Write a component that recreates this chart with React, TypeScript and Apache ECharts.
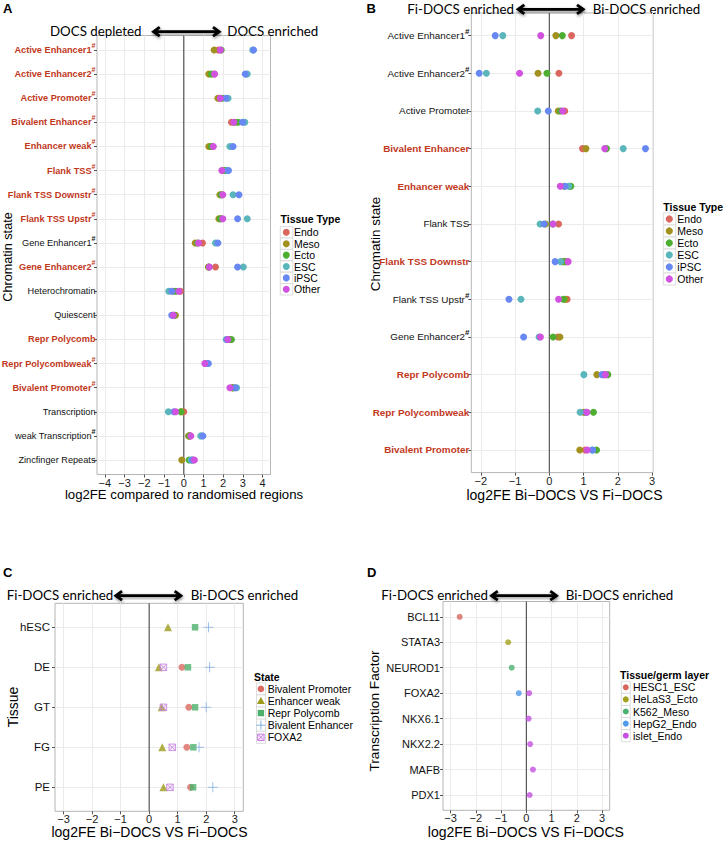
import React, { useEffect, useRef } from 'react';
import * as echarts from 'echarts';

const FONT = '"Liberation Sans", Arial, sans-serif';
const HEAD = 'Lato, "Open Sans", sans-serif';
const RED = '#C1391D';

// ---------- Panel A ----------
const statesA = ['Active Enhancer1#', 'Active Enhancer2#', 'Active Promoter#', 'Bivalent Enhancer#', 'Enhancer weak#', 'Flank TSS#', 'Flank TSS Downstr#', 'Flank TSS Upstr#', 'Gene Enhancer1#', 'Gene Enhancer2#', 'Heterochromatin', 'Quiescent', 'Repr Polycomb', 'Repr Polycombweak#', 'Bivalent Promoter#', 'Transcription', 'weak Transcription#', 'Zincfinger Repeats'];
const redA = [true, true, true, true, true, true, true, true, false, true, false, false, true, true, true, false, false, false];
const endoA = [1.75, 1.55, 1.8, 2.42, 1.45, 2.0, 1.95, 1.9, 0.95, 1.61, -0.17, -0.5, 2.3, 1.1, 2.45, 0.0, 0.3, 0.45];
const mesoA = [1.54, 1.27, 1.73, 2.6, 1.27, 2.03, 1.83, 1.78, 0.58, 1.25, -0.54, -0.42, 2.34, 1.15, 2.5, -0.12, 0.24, -0.1];
const ectoA = [1.9, 1.4, 1.95, 2.75, 1.4, 2.1, 1.9, 1.85, 0.7, 1.28, -0.4, -0.5, 2.42, 1.12, 2.52, -0.15, 0.3, 0.27];
const escA = [3.5, 3.22, 2.25, 3.1, 2.34, 2.2, 2.5, 3.22, 1.61, 3.02, -0.76, -0.55, 2.15, 1.2, 2.68, -0.78, 0.86, 0.37];
const ipscA = [3.54, 3.12, 2.14, 2.98, 2.5, 2.27, 2.8, 2.73, 1.73, 2.73, -0.6, -0.61, 2.2, 1.25, 2.62, -0.5, 0.97, 0.44];
const otherA = [1.86, 1.56, 1.85, 2.54, 1.5, 1.93, 1.98, 1.98, 0.75, 1.3, -0.25, -0.53, 2.24, 1.07, 2.34, -0.41, 0.36, 0.54];
const ticksA = [-4, -3, -2, -1, 0, 1, 2, 3, 4];

// ---------- Panel B ----------
const statesB = ['Active Enhancer1#', 'Active Enhancer2#', 'Active Promoter', 'Bivalent Enhancer', 'Enhancer weak', 'Flank TSS', 'Flank TSS Downstr', 'Flank TSS Upstr#', 'Gene Enhancer2#', 'Repr Polycomb', 'Repr Polycombweak', 'Bivalent Promoter'];
const redB = [false, false, false, true, true, false, true, false, false, true, true, true];
const endoB = [0.65, 0.28, 0.45, 0.97, 0.6, 0.27, 0.5, 0.52, 0.25, 1.6, 1.05, 1.05];
const mesoB = [0.19, -0.33, 0.26, 1.07, 0.43, -0.11, 0.39, 0.46, 0.31, 1.39, 1.0, 0.89];
const ectoB = [0.38, -0.07, 0.33, 1.67, 0.63, 0.1, 0.45, 0.41, 0.11, 1.71, 1.29, 1.38];
const escB = [-1.36, -1.84, -0.34, 2.16, 0.57, -0.27, 0.33, -0.83, -0.3, 1.01, 0.9, 1.25];
const ipscB = [-1.58, -2.05, -0.03, 2.81, 0.46, -0.15, 0.17, -1.18, -0.75, 1.54, 1.08, 1.27];
const otherB = [-0.25, -0.87, 0.39, 1.62, 0.32, 0.11, 0.55, 0.27, -0.26, 1.64, 1.1, 1.11];
const ticksB = [-2, -1, 0, 1, 2, 3];

const tissues = ['Endo', 'Meso', 'Ecto', 'ESC', 'iPSC', 'Other'];
const tissueColors = ['#D9675E', '#A3911F', '#4DAE32', '#5BB6BB', '#6787F2', '#D152DE'];

// ---------- Panel C ----------
const tissuesC = ['hESC', 'DE', 'GT', 'FG', 'PE'];
const statesC = ['Bivalent Promoter', 'Enhancer weak', 'Repr Polycomb', 'Bivalent Enhancer', 'FOXA2'];
const bivPromC = [null, 1.15, 1.39, 1.32, 1.45];
const enhWeakC = [0.66, 0.34, 0.44, 0.46, 0.5];
const reprPolyC = [1.61, 1.36, 1.61, 1.55, 1.54];
const bivEnhC = [2.08, 2.12, 2.0, 1.75, 2.23];
const foxa2C = [null, 0.5, 0.5, 0.81, 0.73];
const colorsC = ['#DA6A61', '#9E9B19', '#4CB16C', '#86B0E4', '#C77EE0'];
const ticksC = [-3, -2, -1, 0, 1, 2, 3];

// ---------- Panel D ----------
const tfD = ['BCL11', 'STATA3', 'NEUROD1', 'FOXA2', 'NKX6.1', 'NKX2.2', 'MAFB', 'PDX1'];
const linesD = ['HESC1_ESC', 'HeLaS3_Ecto', 'K562_Meso', 'HepG2_Endo', 'islet_Endo'];
const hesc1D = [-2.64, null, null, null, null, null, null, null];
const helaD = [null, -0.72, null, null, null, null, null, null];
const k562D = [null, null, -0.58, null, null, null, null, null];
const hepg2D = [null, null, null, -0.3, null, null, null, null];
const isletD = [null, null, null, 0.11, 0.09, 0.15, 0.26, 0.13];
const colorsD = ['#D8675E', '#A2A01E', '#4DB270', '#4F9AE9', '#C551E1'];
const ticksD = [-3, -2, -1, 0, 1, 2, 3];

const PLUS = 'path://M5,0L5,10M0,5L10,5';
const BOXX = 'path://M0,0L10,0L10,10L0,10Z M0,0L10,10 M10,0L0,10';

const fmtNum = (v: number) => (v < 0 ? '\u2212' + Math.abs(v) : String(v));
const pts = (vals: (number | null)[]) =>
  vals.map((v, i) => (v == null ? null : [v, i])).filter((d) => d != null);

function richFor(fs: number) {
  return {
    r: { color: RED, fontWeight: 'bold', fontSize: fs, fontFamily: FONT, lineHeight: 16 },
    rs: { color: RED, fontWeight: 'bold', fontSize: fs - 2, fontFamily: FONT, lineHeight: 9, verticalAlign: 'top' },
    k: { color: '#111', fontSize: fs, fontFamily: FONT, lineHeight: 16 },
    ks: { color: '#111', fontWeight: 'bold', fontSize: fs - 2, fontFamily: FONT, lineHeight: 9, verticalAlign: 'top' },
  };
}

function catLabel(labels: string[], reds: boolean[] | null) {
  return (v: number) => {
    const s = labels[v];
    if (s == null) return '';
    const hash = s.endsWith('#');
    const base = hash ? s.slice(0, -1) : s;
    const k = reds && reds[v] ? 'r' : 'k';
    return `{${k}|${base}}` + (hash ? `{${k}s|#}` : '');
  };
}

function xAxisFor(gridIndex: number, min: number, max: number, ticks: number[]) {
  return {
    type: 'value', gridIndex, min, max, position: 'bottom',
    axisLine: { show: false, onZero: false },
    axisTick: { show: true, length: 3, lineStyle: { color: '#555' }, customValues: ticks },
    axisLabel: { customValues: ticks, formatter: fmtNum, fontSize: 11, lineHeight: 10, color: '#1a1a1a', margin: 3, fontFamily: FONT },
    splitLine: { show: true, lineStyle: { color: '#EBEBEB', width: 1 } },
    minInterval: 1, maxInterval: 1,
  };
}

function yAxisFor(gridIndex: number, labels: string[], reds: boolean[] | null, fs: number, margin: number) {
  const idx = labels.map((_, i) => i);
  return {
    type: 'value', gridIndex, min: -0.6, max: labels.length - 0.4, inverse: true, position: 'left',
    minInterval: 1, maxInterval: 1,
    axisLine: { show: false, onZero: false },
    axisTick: { show: true, length: 3, lineStyle: { color: '#555' }, customValues: idx },
    axisLabel: { customValues: idx, formatter: catLabel(labels, reds), margin, rich: richFor(fs), fontSize: fs, fontFamily: FONT, color: '#111' },
    splitLine: { show: true, lineStyle: { color: '#EBEBEB', width: 1 } },
  };
}

function zeroLine(k: number, n: number) {
  return {
    type: 'line', xAxisIndex: k, yAxisIndex: k, data: [[0, -0.6], [0, n - 0.4]],
    showSymbol: false, symbol: 'none', silent: true, z: 1,
    lineStyle: { color: '#4a4a4a', width: 1.1 },
  };
}

function arrowEls(x1: number, x2: number, y: number) {
  const sh = { shadowBlur: 3, shadowColor: 'rgba(0,0,0,0.45)', shadowOffsetY: 1.5, shadowOffsetX: 0.5 };
  return [
    { type: 'rect', shape: { x: x1 + 2, y: y - 1.4, width: x2 - x1 - 4, height: 2.8 }, style: { fill: '#000', ...sh } },
    { type: 'polyline', shape: { points: [[x1 + 7, y - 4.5], [x1 + 0.8, y], [x1 + 7, y + 4.5]] }, style: { stroke: '#000', fill: null, lineWidth: 2.8, lineJoin: 'miter', ...sh } },
    { type: 'polyline', shape: { points: [[x2 - 7, y - 4.5], [x2 - 0.8, y], [x2 - 7, y + 4.5]] }, style: { stroke: '#000', fill: null, lineWidth: 2.8, lineJoin: 'miter', ...sh } },
  ];
}

function txt(text: string, x: number, y: number, o: any = {}) {
  return {
    type: 'text', x, y, rotation: o.rotation || 0,
    style: {
      text, fill: o.fill || '#000', fontSize: o.fontSize || 11, fontFamily: o.fontFamily || FONT,
      fontWeight: o.fontWeight || 'normal', align: o.align || 'left', verticalAlign: o.verticalAlign || 'middle',
      lineHeight: o.lineHeight,
    },
  };
}

function keyBox(x: number, y: number, w: number, h: number) {
  return { type: 'rect', shape: { x, y: y - h / 2, width: w, height: h }, style: { fill: '#fff', stroke: '#D4D4D4', lineWidth: 0.8 } };
}

function App() {
  const ref = useRef<HTMLDivElement>(null);
  useEffect(() => {
    if (!ref.current) return;
    const chart = echarts.init(ref.current, null, { renderer: 'svg' });

    const gridStyle = { show: true, borderColor: '#B5B5B5', borderWidth: 1, backgroundColor: '#fff', containLabel: false, outerBoundsMode: 'none' };
    const grids = [
      { ...gridStyle, left: 97, top: 35.5, width: 173.5, height: 439 },
      { ...gridStyle, left: 471.3, top: 13, width: 181.7, height: 459.6 },
      { ...gridStyle, left: 55, top: 603.3, width: 188.3, height: 208 },
      { ...gridStyle, left: 443, top: 601.5, width: 166.7, height: 208.8 },
    ];

    const series: any[] = [];
    series.push(zeroLine(0, statesA.length), zeroLine(1, statesB.length), zeroLine(2, tissuesC.length), zeroLine(3, tfD.length));
    [endoA, mesoA, ectoA, escA, ipscA, otherA].forEach((vals, k) => {
      series.push({ type: 'scatter', name: tissues[k], xAxisIndex: 0, yAxisIndex: 0, symbolSize: 7, z: 3, silent: true, itemStyle: { color: tissueColors[k], opacity: 1 }, data: pts(vals) });
    });
    [endoB, mesoB, ectoB, escB, ipscB, otherB].forEach((vals, k) => {
      series.push({ type: 'scatter', name: tissues[k], xAxisIndex: 1, yAxisIndex: 1, symbolSize: 7, z: 3, silent: true, itemStyle: { color: tissueColors[k], opacity: 1 }, data: pts(vals) });
    });
    const symC = ['circle', 'triangle', 'rect', PLUS, BOXX];
    const sizeC = [7, 8, 6.5, 10, 6.5];
    [bivPromC, enhWeakC, reprPolyC, bivEnhC, foxa2C].forEach((vals, k) => {
      const stroked = k >= 3;
      series.push({
        type: 'scatter', name: statesC[k], xAxisIndex: 2, yAxisIndex: 2, symbol: symC[k], symbolSize: sizeC[k], z: 3, silent: true,
        itemStyle: stroked
          ? { color: k === 4 ? 'rgba(210,150,235,0.18)' : 'rgba(0,0,0,0)', borderColor: colorsC[k], borderWidth: 1 }
          : { color: colorsC[k] },
        data: pts(vals),
      });
    });
    [hesc1D, helaD, k562D, hepg2D, isletD].forEach((vals, k) => {
      series.push({ type: 'scatter', name: linesD[k], xAxisIndex: 3, yAxisIndex: 3, symbolSize: 6, z: 3, silent: true, itemStyle: { color: colorsD[k] }, data: pts(vals) });
    });

    const g: any[] = [];
    // panel letters
    g.push(txt('A', 3, 8.5, { fontSize: 13, fontWeight: 'bold' }));
    g.push(txt('B', 366.5, 8.5, { fontSize: 13, fontWeight: 'bold' }));
    g.push(txt('C', 3, 572.5, { fontSize: 13, fontWeight: 'bold' }));
    g.push(txt('D', 367, 572, { fontSize: 13, fontWeight: 'bold' }));
    // headers
    g.push(txt('DOCS depleted', 50, 30.5, { fontSize: 13.3, fontFamily: HEAD }));
    g.push(...arrowEls(152.7, 220, 31.7));
    g.push(txt('DOCS enriched', 227.3, 30.5, { fontSize: 13.3, fontFamily: HEAD }));
    g.push(txt('Fi-DOCS enriched', 407.3, 8.5, { fontSize: 13.3, fontFamily: HEAD }));
    g.push(...arrowEls(517.3, 584, 9.3));
    g.push(txt('Bi-DOCS enriched', 592.7, 8.5, { fontSize: 13.3, fontFamily: HEAD }));
    g.push(txt('Fi-DOCS enriched', 6.7, 595.3, { fontSize: 13.3, fontFamily: HEAD }));
    g.push(...arrowEls(115, 181.7, 595.7));
    g.push(txt('Bi-DOCS enriched', 190.7, 595.3, { fontSize: 13.3, fontFamily: HEAD }));
    g.push(txt('Fi-DOCS enriched', 381.3, 595.3, { fontSize: 13.3, fontFamily: HEAD }));
    g.push(...arrowEls(490.7, 557.3, 595.7));
    g.push(txt('Bi-DOCS enriched', 565.7, 595.3, { fontSize: 13.3, fontFamily: HEAD }));
    // axis titles
    g.push(txt('log2FE compared to randomised regions', 184, 494.5, { fontSize: 13.2, align: 'center', lineHeight: 13 }));
    g.push(txt('Chromatin state', 7.5, 257, { fontSize: 12.7, align: 'center', rotation: Math.PI / 2 }));
    g.push(txt('log2FE Bi\u2212DOCS VS Fi\u2212DOCS', 564.5, 494.5, { fontSize: 14, align: 'center', lineHeight: 13 }));
    g.push(txt('Chromatin state', 375.5, 244, { fontSize: 13.4, align: 'center', rotation: Math.PI / 2 }));
    g.push(txt('log2FE Bi\u2212DOCS VS Fi\u2212DOCS', 149.5, 832, { fontSize: 14, align: 'center', lineHeight: 13 }));
    g.push(txt('Tissue', 13, 707, { fontSize: 14, align: 'center', rotation: Math.PI / 2 }));
    g.push(txt('log2FE Bi\u2212DOCS VS Fi\u2212DOCS', 525.8, 832, { fontSize: 14, align: 'center', lineHeight: 13 }));
    g.push(txt('Transcription Factor', 374, 711, { fontSize: 13.7, align: 'center', rotation: Math.PI / 2 }));

    // legend A
    g.push(txt('Tissue Type', 280.5, 219.3, { fontSize: 10.5, fontWeight: 'bold' }));
    tissues.forEach((t, i) => {
      const y = 232.3 + i * 11.4;
      g.push(keyBox(280.3, y, 12.5, 11.4));
      g.push({ type: 'circle', shape: { cx: 286.3, cy: y, r: 3.5 }, style: { fill: tissueColors[i] } });
      g.push(txt(t, 294, y, { fontSize: 10.5 }));
    });
    // legend B
    g.push(txt('Tissue Type', 663.3, 206.5, { fontSize: 10.5, fontWeight: 'bold' }));
    tissues.forEach((t, i) => {
      const y = 219 + i * 12;
      g.push(keyBox(663.3, y, 12.4, 12));
      g.push({ type: 'circle', shape: { cx: 669.3, cy: y, r: 3.6 }, style: { fill: tissueColors[i] } });
      g.push(txt(t, 677.3, y, { fontSize: 10.5 }));
    });
    // legend C
    g.push(txt('State', 254, 676.7, { fontSize: 10.5, fontWeight: 'bold' }));
    statesC.forEach((t, i) => {
      const y = 688.9 + i * 12.1;
      const cx = 260.9;
      g.push(keyBox(256.5, y, 9, 12.1));
      if (i === 0) g.push({ type: 'circle', shape: { cx, cy: y, r: 3.3 }, style: { fill: colorsC[0] } });
      if (i === 1) g.push({ type: 'polygon', shape: { points: [[cx, y - 4], [cx - 4, y + 3], [cx + 4, y + 3]] }, style: { fill: colorsC[1] } });
      if (i === 2) g.push({ type: 'rect', shape: { x: cx - 3.2, y: y - 3.2, width: 6.4, height: 6.4 }, style: { fill: colorsC[2] } });
      if (i === 3) {
        g.push({ type: 'line', shape: { x1: cx - 4.5, y1: y, x2: cx + 4.5, y2: y }, style: { stroke: colorsC[3], lineWidth: 1 } });
        g.push({ type: 'line', shape: { x1: cx, y1: y - 4.5, x2: cx, y2: y + 4.5 }, style: { stroke: colorsC[3], lineWidth: 1 } });
      }
      if (i === 4) {
        g.push({ type: 'rect', shape: { x: cx - 3.2, y: y - 3.2, width: 6.4, height: 6.4 }, style: { fill: 'rgba(210,150,235,0.18)', stroke: colorsC[4], lineWidth: 1 } });
        g.push({ type: 'line', shape: { x1: cx - 3.2, y1: y - 3.2, x2: cx + 3.2, y2: y + 3.2 }, style: { stroke: colorsC[4], lineWidth: 1 } });
        g.push({ type: 'line', shape: { x1: cx + 3.2, y1: y - 3.2, x2: cx - 3.2, y2: y + 3.2 }, style: { stroke: colorsC[4], lineWidth: 1 } });
      }
      g.push(txt(t, 267.7, y, { fontSize: 10.5 }));
    });
    // legend D
    g.push(txt('Tissue/germ layer', 620, 675, { fontSize: 10.5, fontWeight: 'bold' }));
    linesD.forEach((t, i) => {
      const y = 687.3 + i * 12.1;
      g.push(keyBox(621.3, y, 9, 12.1));
      g.push({ type: 'circle', shape: { cx: 625.8, cy: y, r: 3 }, style: { fill: colorsD[i] } });
      g.push(txt(t, 633, y, { fontSize: 10.5 }));
    });

    const option: any = {
      animation: false,
      backgroundColor: '#fff',
      textStyle: { fontFamily: FONT },
      grid: grids,
      xAxis: [
        xAxisFor(0, -4.4, 4.4, ticksA),
        xAxisFor(1, -2.28, 3.03, ticksB),
        xAxisFor(2, -3.3, 3.3, ticksC),
        xAxisFor(3, -3.3, 3.3, ticksD),
      ],
      yAxis: [
        yAxisFor(0, statesA, redA, 9.2, 1.5),
        yAxisFor(1, statesB, redB, 9.9, 2),
        yAxisFor(2, tissuesC, null, 11.5, 5),
        yAxisFor(3, tfD, null, 11, 3),
      ],
      series,
      graphic: { elements: g },
    };
    chart.setOption(option);
    return () => chart.dispose();
  }, []);
  return <div ref={ref} style={{ position: 'absolute', left: 0, top: 0, width: 728, height: 842, background: '#fff' }} />;
}

export default App;
